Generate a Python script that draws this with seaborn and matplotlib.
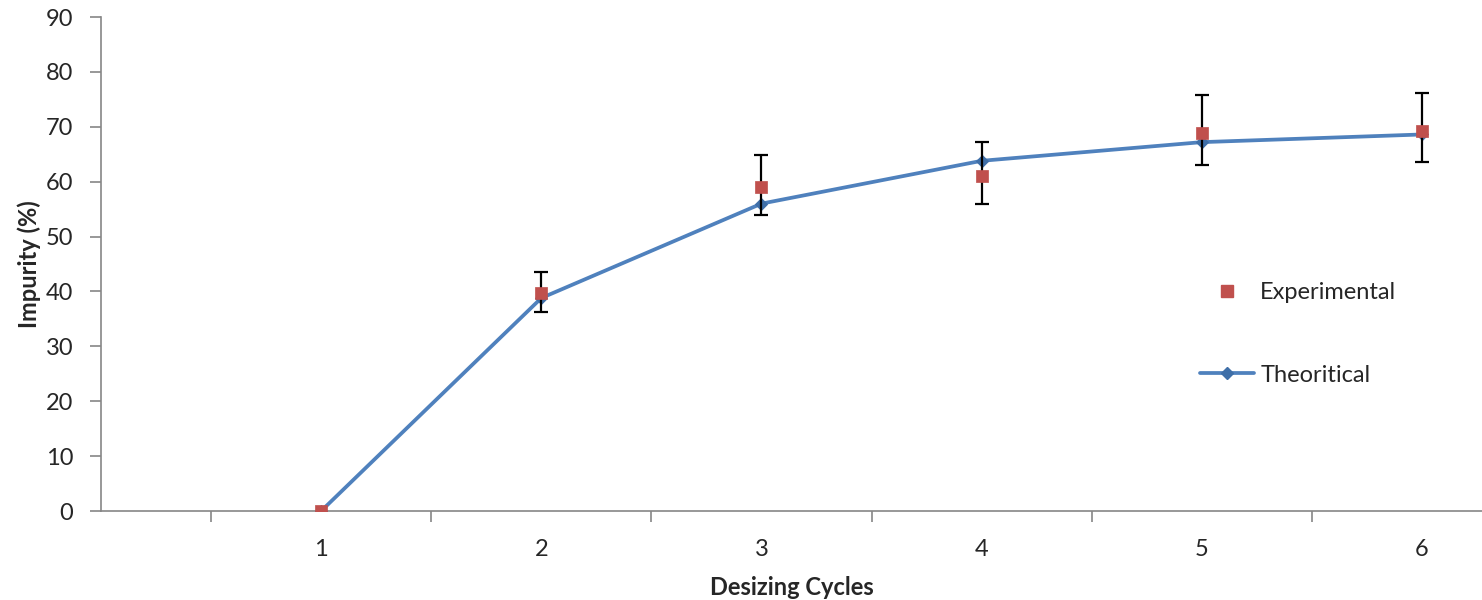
import matplotlib
matplotlib.use("Agg")
import matplotlib.pyplot as plt
import seaborn as sns
import pandas as pd
from matplotlib.lines import Line2D

cycles = [1, 2, 3, 4, 5, 6]
experimental = [0.0, 39.7, 59.0, 61.0, 68.8, 69.3]
theoretical = [0.0, 38.8, 56.0, 63.8, 67.2, 68.6]
err_low = [None, 36.3, 54.0, 56.0, 63.0, 63.5]
err_high = [None, 43.6, 64.9, 67.2, 75.7, 76.2]
y_ticks = [0, 10, 20, 30, 40, 50, 60, 70, 80, 90]

sns.set_style("white")
plt.rcParams['font.family'] = ['Lato', 'DejaVu Sans']

FS = 17

df = pd.DataFrame({"cycle": cycles, "exp": experimental, "theo": theoretical})

fig = plt.figure(figsize=(14.82, 6), dpi=100)
ax = fig.add_axes([101/1482, 89/600, 1381/1482, 494/600])

blue = "#4F81BD"
red = "#C0504D"
axis_col = "#868686"

sns.lineplot(data=df, x="cycle", y="theo", ax=ax, color=blue, lw=2.7,
             marker="D", markersize=6, markerfacecolor="#3F6FA8",
             markeredgecolor="#3F6FA8", zorder=3)

# error bars (experimental)
for c, e, lo, hi in zip(cycles, experimental, err_low, err_high):
    if lo is None:
        continue
    ax.errorbar([c], [e], yerr=[[e - lo], [hi - e]], fmt="none",
                ecolor="black", elinewidth=1.6, capsize=4.8, capthick=1.6, zorder=4)

sns.scatterplot(data=df, x="cycle", y="exp", ax=ax, color=red, marker="s",
                s=85, edgecolor=red, linewidth=0.5, zorder=5)

ax.set_xlim(0, 6 + 60/220)
ax.set_ylim(0, 90)
ax.set_yticks(y_ticks)
ax.set_xticks(cycles)
ax.set_xticks([0.5, 1.5, 2.5, 3.5, 4.5, 5.5], minor=True)
ax.tick_params(axis="x", which="major", length=0, pad=20, labelsize=FS)
ax.tick_params(axis="x", which="minor", length=8, width=1.2, color=axis_col, direction="out")
ax.tick_params(axis="y", length=8, width=1.2, color=axis_col, direction="out", pad=12, labelsize=FS)
ax.tick_params(bottom=True, which="both")
ax.tick_params(left=True)

for s in ["top", "right"]:
    ax.spines[s].set_visible(False)
for s in ["left", "bottom"]:
    ax.spines[s].set_color(axis_col)
    ax.spines[s].set_linewidth(1.2)

ax.set_xlabel("Desizing Cycles", fontsize=FS, fontweight="bold", labelpad=12)
ax.set_ylabel("Impurity (%)", fontsize=FS, fontweight="bold", labelpad=3)

handles = [
    Line2D([], [], color=red, marker="s", linestyle="none", markersize=8),
    Line2D([], [], color=blue, lw=2.7, marker="D", markersize=6,
           markerfacecolor="#3F6FA8", markeredgecolor="#3F6FA8"),
]
ax.legend(handles, ["Experimental", "Theoritical"], loc="center left",
          bbox_to_anchor=((1200 - 101) / 1381, (511 - 334) / 494),
          frameon=False, fontsize=FS, handlelength=2.3, handletextpad=0.25,
          labelspacing=2.6, borderpad=0, borderaxespad=0)

fig.savefig("out.png", dpi=100)
